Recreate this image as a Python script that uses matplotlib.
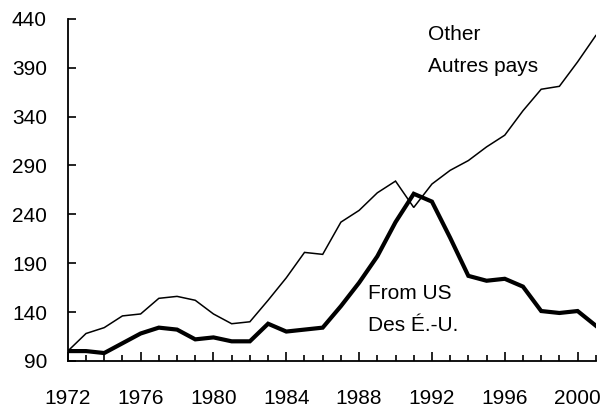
import matplotlib
matplotlib.use("Agg")
import matplotlib.pyplot as plt
from matplotlib.ticker import MultipleLocator

years = list(range(1972, 2002))
other = [100, 118, 124, 136, 138, 154, 156, 152, 138, 128, 130, 152, 175, 201, 199,
         232, 244, 262, 274, 247, 271, 285, 295, 309, 321, 346, 368, 371, 396, 423]
from_us = [100, 100, 98, 108, 118, 124, 122, 112, 114, 110, 110, 128, 120, 122, 124,
           146, 170, 197, 232, 261, 253, 216, 177, 172, 174, 166, 141, 139, 141, 126]
yticks = [90, 140, 190, 240, 290, 340, 390, 440]
xticks = [1972, 1976, 1980, 1984, 1988, 1992, 1996, 2000]

plt.rcParams['font.family'] = ['Liberation Sans', 'DejaVu Sans']

fig = plt.figure(figsize=(6.0, 4.11), dpi=100)
ax = fig.add_axes([0.113, 0.122, 0.880, 0.832])

ax.plot(years, other, color='black', lw=1.1, solid_joinstyle='miter')
ax.plot(years, from_us, color='black', lw=3.0, solid_joinstyle='miter')

ax.set_xlim(1972, 2001)
ax.set_ylim(90, 440)
ax.set_yticks(yticks)
ax.set_xticks(xticks)
ax.xaxis.set_minor_locator(MultipleLocator(1))

for s in ['top', 'right']:
    ax.spines[s].set_visible(False)
for s in ['left', 'bottom']:
    ax.spines[s].set_linewidth(1.3)

ax.tick_params(axis='y', direction='in', length=6, width=1.2, pad=15, labelsize=15)
ax.tick_params(axis='x', which='major', direction='in', length=6.5, width=1.2, pad=20, labelsize=15)
ax.tick_params(axis='x', which='minor', direction='in', length=4.5, width=1.2)

ax.text(1991.8, 418, 'Other', fontsize=15, ha='left', va='baseline')
ax.text(1991.8, 385.4, 'Autres pays', fontsize=15, ha='left', va='baseline')
ax.text(1988.5, 153.8, 'From US', fontsize=15, ha='left', va='baseline')
ax.text(1988.5, 120.9, 'Des É.-U.', fontsize=15, ha='left', va='baseline')

fig.savefig('out.png', dpi=100)
